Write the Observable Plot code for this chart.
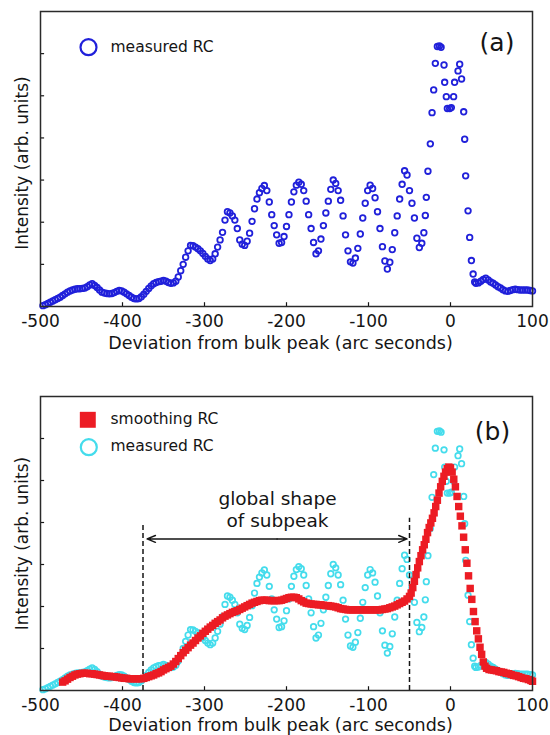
<!DOCTYPE html>
<html><head><meta charset="utf-8">
<script src="https://cdn.jsdelivr.net/npm/d3@7"></script>
<script src="https://cdn.jsdelivr.net/npm/@observablehq/plot@0.6"></script>
<style>
body{margin:0;background:#fff;}
#chart{width:550px;height:735px;position:relative;background:#fff;}
#chart svg{display:block;}
</style></head><body><div id="chart"></div>
<script>
// measured rocking curve (arc seconds, arb. intensity)
const rcX = [-497,-494,-491,-488,-485,-482,-479,-476,-473,-470,-467,-464,-461,-458,-455,-452,-449,-446,-443,-440,-437,-434,-431,-428,-425,-422,-419,-416,-413,-410,-407,-404,-401,-398,-395,-392,-389,-386,-383,-380,-377,-374,-371,-368,-365,-362,-359,-356,-353,-350,-347,-344,-341,-338,-335,-332,-329,-326,-323,-320,-317,-314,-311,-308,-305,-302,-299,-296,-293,-290,-287,-284,-281,-278,-275,-272,-269,-266,-263,-260,-257,-254,-251,-248,-245,-242,-239,-236,-233,-230,-227,-224,-221,-218,-215,-212,-209,-206,-203,-200,-197,-194,-191,-188,-185,-182,-179,-176,-173,-170,-167,-164,-161,-158,-155,-152,-149,-146,-143,-140,-137,-134,-131,-128,-125,-122,-119,-116,-113,-110,-107,-104,-101,-98,-95,-92,-89,-86,-83,-80,-77,-74,-71,-68,-65,-62,-59,-56,-53,-50,-47,-44,-41,-38,-35,-32.5,-30.7,-29.5,-27.5,-24.6,-22.5,-20.5,-18.5,-16,-13.5,-11.5,-7.9,-7.1,-5.1,-3.8,-1,1,3.8,5,9.2,11.2,13.5,16.1,17.3,18.5,21.4,23.4,25.5,27.6,29.5,31,34,37,40,43,46,49,52,55,58,61,64,67,70,73,76,79,82,85,88,91,94,97,100];
const rcY = [0.02,0.04,0.07,0.10,0.13,0.16,0.19,0.22,0.26,0.30,0.34,0.37,0.39,0.41,0.42,0.42,0.43,0.44,0.47,0.51,0.54,0.50,0.45,0.39,0.34,0.32,0.31,0.30,0.31,0.33,0.36,0.38,0.37,0.34,0.30,0.26,0.22,0.19,0.18,0.19,0.23,0.29,0.36,0.43,0.49,0.54,0.57,0.59,0.60,0.62,0.60,0.57,0.55,0.56,0.60,0.70,0.85,1.00,1.17,1.32,1.45,1.44,1.41,1.37,1.32,1.26,1.19,1.13,1.09,1.13,1.25,1.41,1.58,1.76,2.05,2.25,2.22,2.15,2.05,1.85,1.58,1.48,1.45,1.55,1.74,2.02,2.32,2.55,2.70,2.80,2.87,2.75,2.48,2.18,1.92,1.70,1.50,1.52,1.66,1.90,2.18,2.48,2.72,2.88,2.95,2.90,2.75,2.50,2.18,1.85,1.52,1.25,1.32,1.60,1.92,2.22,2.50,2.78,3.00,2.92,2.75,2.52,2.15,1.70,1.32,1.06,1.03,1.15,1.38,1.72,2.10,2.45,2.75,2.88,2.80,2.58,2.25,1.85,1.42,1.08,0.89,1.05,1.35,1.75,2.15,2.55,2.90,3.22,3.12,2.75,2.45,2.10,1.62,1.40,1.50,1.75,2.16,2.59,3.21,3.86,4.60,5.14,5.77,6.17,6.18,6.15,5.73,5.32,4.98,4.70,4.70,4.72,4.98,5.32,5.59,5.75,5.40,4.62,3.97,3.10,2.27,1.64,1.09,0.77,0.58,0.55,0.56,0.60,0.64,0.67,0.63,0.58,0.55,0.51,0.47,0.44,0.40,0.37,0.36,0.38,0.40,0.41,0.40,0.39,0.39,0.39,0.39,0.38,0.37];

// smoothed rocking curve
const smX = [-473,-470,-467,-464,-461,-458,-455,-452,-449,-446,-443,-440,-437,-434,-431,-428,-425,-422,-419,-416,-413,-410,-407,-404,-401,-398,-395,-392,-389,-386,-383,-380,-377,-374,-371,-368,-365,-362,-359,-356,-353,-350,-347,-344,-341,-338,-335,-332,-329,-326,-323,-320,-317,-314,-311,-308,-305,-302,-299,-296,-293,-290,-287,-284,-281,-278,-275,-272,-269,-266,-263,-260,-257,-254,-251,-248,-245,-242,-239,-236,-233,-230,-227,-224,-221,-218,-215,-212,-209,-206,-203,-200,-197,-194,-191,-188,-185,-182,-179,-176,-173,-170,-167,-164,-161,-158,-155,-152,-149,-146,-143,-140,-137,-134,-131,-128,-125,-122,-119,-116,-113,-110,-107,-104,-101,-98,-95,-92,-89,-86,-83,-80,-77,-74,-71,-68,-65,-62,-59,-56,-53,-50,-48,-46,-44,-42,-40,-38,-36,-34,-32,-30,-28,-26,-24,-22,-20,-18,-16,-14,-12,-10,-8,-6,-4,-2,0,2,4,6,8,10,12,14,16,18,20,22,24,26,28,30,32,34,36,38,40,42,44,47,50,53,56,59,62,65,68,71,74,77,80,83,86,89,92,95,98,100];
const smY = [0.20,0.23,0.27,0.31,0.34,0.37,0.39,0.40,0.41,0.41,0.41,0.40,0.40,0.39,0.38,0.37,0.36,0.35,0.34,0.34,0.33,0.33,0.32,0.31,0.30,0.29,0.29,0.28,0.28,0.28,0.28,0.28,0.28,0.29,0.31,0.33,0.35,0.37,0.40,0.42,0.45,0.49,0.52,0.55,0.58,0.63,0.69,0.76,0.83,0.90,0.96,1.02,1.08,1.13,1.19,1.25,1.30,1.36,1.41,1.46,1.51,1.55,1.60,1.64,1.68,1.73,1.77,1.80,1.83,1.86,1.88,1.90,1.93,1.96,1.99,2.02,2.05,2.08,2.10,2.12,2.14,2.15,2.15,2.15,2.14,2.14,2.14,2.14,2.14,2.15,2.17,2.19,2.21,2.22,2.22,2.21,2.18,2.14,2.11,2.08,2.07,2.06,2.05,2.05,2.04,2.04,2.03,2.02,2.02,2.01,2.00,1.99,1.97,1.95,1.94,1.93,1.92,1.92,1.92,1.92,1.92,1.92,1.92,1.92,1.92,1.92,1.92,1.92,1.92,1.92,1.93,1.94,1.95,1.97,1.99,2.01,2.04,2.07,2.10,2.13,2.18,2.24,2.32,2.45,2.60,2.76,2.92,3.07,3.21,3.35,3.47,3.60,3.76,3.88,3.99,4.10,4.23,4.38,4.53,4.70,4.85,4.98,5.10,5.20,5.28,5.32,5.30,5.20,5.03,4.85,4.62,4.38,4.15,3.92,3.65,3.35,3.03,2.73,2.43,2.17,1.88,1.64,1.42,1.23,1.03,0.86,0.68,0.58,0.53,0.50,0.49,0.48,0.47,0.45,0.44,0.43,0.41,0.40,0.38,0.36,0.35,0.33,0.31,0.29,0.28,0.26,0.24,0.22];

const xTicks = [-500, -400, -300, -200, -100, 0, 100];
const yTicks = [1, 2, 3, 4, 5, 6];
const xTitle = "Deviation from bulk peak (arc seconds)";
const yTitle = "Intensity (arb. units)";
// annotation in panel (b)
const boundX = [-375, -50];
const boundTop = [3.98, 4.1];
const arrowEnds = [-370, -53];
const arrowY = 3.61;
const noteLines = ["global shape", "of subpeak"];
const noteLineY = [4.55, 4.03];
const noteX = -211;

const measured = rcX.map((x, i) => ({x, y: rcY[i]}));
const smooth = smX.map((x, i) => ({x, y: smY[i]}));

const FONT = "DejaVu Sans";
const INK = "#151515";
const BLUE = "#2020da";
const CYAN = "#44dcec";
const RED = "#ec1c24";

const T = {lineAnchor: "middle", fill: INK};

function panel({height, marginTop, marginBottom, tag, tagDx, tagDy, yTitleDy, titleDy, before, after}) {
  return Plot.plot({
    width: 550, height, marginLeft: 40, marginRight: 18, marginTop, marginBottom,
    x: {domain: [-500, 100], axis: null},
    y: {domain: [0, 7], axis: null},
    style: {fontFamily: FONT, background: "transparent", overflow: "visible"},
    marks: [
      Plot.ruleX(xTicks.slice(1, -1), {x: d => d, y1: 0, y2: 0.09, stroke: INK, strokeWidth: 1.2}),
      Plot.ruleY(yTicks, {y: d => d, x1: -500, x2: -495, stroke: INK, strokeWidth: 1.2}),
      ...before,
      ...after,
      Plot.frame({stroke: "#2a2a2a", strokeWidth: 1.5}),
      Plot.text(xTicks, {...T, x: d => d, frameAnchor: "bottom", dy: 15, textAnchor: "middle", text: d => String(d), fontSize: 17}),
      Plot.text([xTitle], {...T, frameAnchor: "bottom", dy: titleDy, dx: -6, textAnchor: "middle", text: d => d, fontSize: 17.5}),
      Plot.text([yTitle], {...T, frameAnchor: "left", dx: -18, dy: yTitleDy, rotate: -90, textAnchor: "middle", text: d => d, fontSize: 17}),
      Plot.text([tag], {...T, frameAnchor: "top-right", dx: tagDx, dy: tagDy, textAnchor: "middle", text: d => d, fontSize: 25})
    ]
  });
}

const plotA = panel({
  height: 370, marginTop: 11, marginBottom: 64,
  tag: "(a)", tagDx: -35.5, tagDy: 31, yTitleDy: 4, titleDy: 37,
  before: [
    Plot.dot(measured, {x: "x", y: "y", r: 2.8, stroke: BLUE, strokeWidth: 1.8})
  ],
  after: [
    Plot.dot([0], {frameAnchor: "top-left", dx: 48, dy: 35.7, r: 8, stroke: BLUE, strokeWidth: 2.2}),
    Plot.text(["measured RC"], {...T, frameAnchor: "top-left", dx: 70, dy: 35.5, text: d => d, textAnchor: "start", fontSize: 15.5})
  ]
});

const plotB = panel({
  height: 365, marginTop: 26, marginBottom: 45,
  tag: "(b)", tagDx: -40, tagDy: 35.8, yTitleDy: 0, titleDy: 35,
  before: [
    Plot.dot(measured, {x: "x", y: "y", r: 2.8, stroke: CYAN, strokeWidth: 1.7}),
    Plot.ruleX(boundX, {x: d => d, y1: 0, y2: (d, i) => boundTop[i], stroke: INK, strokeWidth: 1.5, strokeDasharray: "5,3"}),
    Plot.dot(smooth, {x: "x", y: "y", symbol: "square", r: 4.2, fill: RED, stroke: "none"})
  ],
  after: [
    Plot.arrow(arrowEnds, {x1: () => (arrowEnds[0] + arrowEnds[1]) / 2, y1: arrowY, x2: d => d, y2: arrowY, stroke: INK, strokeWidth: 1.5, headLength: 9, headAngle: 45}),
    Plot.text(noteLines, {...T, x: noteX, y: (d, i) => noteLineY[i], textAnchor: "middle", text: d => d, fontSize: 18.5}),
    Plot.dot([0], {frameAnchor: "top-left", dx: 47.3, dy: 23.3, symbol: "square", r: 9, fill: RED, stroke: "none"}),
    Plot.text(["smoothing RC"], {...T, frameAnchor: "top-left", dx: 70, dy: 23, text: d => d, textAnchor: "start", fontSize: 15.5}),
    Plot.dot([0], {frameAnchor: "top-left", dx: 48.3, dy: 50.7, r: 8, stroke: CYAN, strokeWidth: 2.2}),
    Plot.text(["measured RC"], {...T, frameAnchor: "top-left", dx: 70, dy: 50, text: d => d, textAnchor: "start", fontSize: 15.5})
  ]
});

const chart = document.getElementById("chart");
chart.appendChild(plotA);
chart.appendChild(plotB);
</script>
</body></html>
